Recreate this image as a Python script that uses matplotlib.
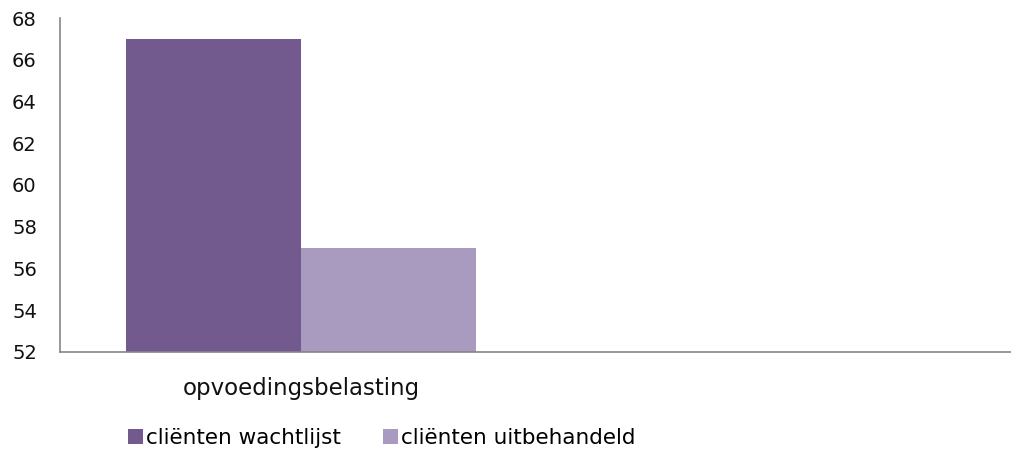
import numpy as np
import matplotlib.pyplot as plt

# data
categories = ["opvoedingsbelasting", ""]
wachtlijst = [67, np.nan]
uitbehandeld = [57, np.nan]
series_names = ["cliënten wachtlijst", "cliënten uitbehandeld"]

plt.rcParams['font.family'] = ['DejaVu Sans']

fig = plt.figure(figsize=(10.12, 4.5), dpi=100)
# axes runs a bit past the right edge, like the original
ax = fig.add_axes([0.0593, 0.2178, 0.9526, 0.7422])

x = np.arange(len(categories))
w = 0.364
ax.bar(x - w / 2, wachtlijst, w, color="#725A8E", label=series_names[0])
ax.bar(x + w / 2, uitbehandeld, w, color="#A99BC0", label=series_names[1])

ax.set_ylim(52, 68)
ax.set_xlim(-0.5, 1.5)
ax.set_yticks(np.arange(52, 69, 2))
ax.set_xticks(x)
ax.set_xticklabels(categories, fontsize=16.5)
ax.tick_params(axis="both", length=0, colors="#111111")
ax.tick_params(axis="y", labelsize=14, pad=34.5)
ax.tick_params(axis="x", pad=18)
for lab in ax.get_yticklabels():
    lab.set_horizontalalignment("left")

for s in ["top", "right"]:
    ax.spines[s].set_visible(False)
for s in ["left", "bottom"]:
    ax.spines[s].set_color("#868686")
    ax.spines[s].set_linewidth(1.2)

fig.legend(loc="center left", bbox_to_anchor=(0.1073, 0.027), ncol=2, frameon=False,
           fontsize=15.5, handlelength=0.7, handleheight=0.7, handletextpad=0.15,
           columnspacing=1.95)

fig.savefig("out.png", dpi=100)
